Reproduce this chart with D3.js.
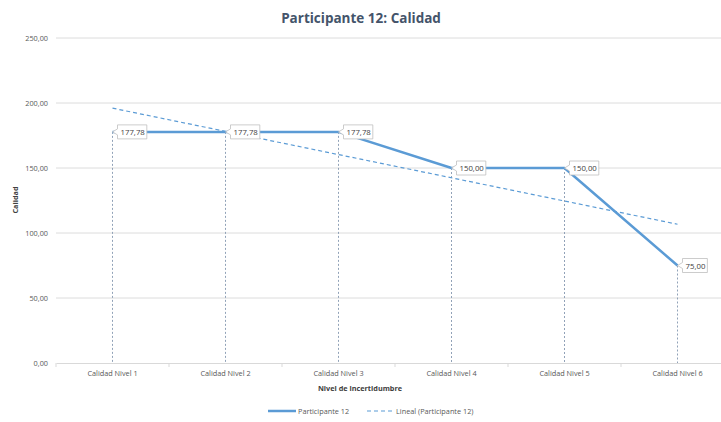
<!DOCTYPE html>
<html>
<head>
<meta charset="utf-8">
<script src="https://cdnjs.cloudflare.com/ajax/libs/d3/7.8.5/d3.min.js"></script>
<style>
  body { margin: 0; background: #fff; }
  text { font-family: "Open Sans", "Liberation Sans", sans-serif; }
</style>
</head>
<body>
<svg id="chart" width="721" height="422"></svg>
<script>
var categories = ["Calidad Nivel 1", "Calidad Nivel 2", "Calidad Nivel 3", "Calidad Nivel 4", "Calidad Nivel 5", "Calidad Nivel 6"];
var values = [177.78, 177.78, 177.78, 150.00, 150.00, 75.00];
var yTicks = [0, 50, 100, 150, 200, 250];

var fmt = function(v) { return d3.format(".2f")(v).replace(".", ","); };

var svg = d3.select("#chart"),
  margin = {top: 38, right: -13, bottom: 59, left: 56},
  width = +svg.attr("width") - margin.left - margin.right,
  height = +svg.attr("height") - margin.top - margin.bottom,
  main = svg.append("g").attr("transform", "translate(" + margin.left + "," + margin.top + ")");

var x = d3.scaleBand().domain(categories).range([0, width]);
var y = d3.scaleLinear().domain([0, 250]).range([height, 0]);
var cx = function(i) { return x(categories[i]) + x.bandwidth() / 2; };

// gridlines
main.append("g").selectAll("line").data(yTicks.slice(1)).enter().append("line")
  .attr("x1", 0).attr("x2", width)
  .attr("y1", function(d) { return y(d); }).attr("y2", function(d) { return y(d); })
  .attr("stroke", "#dcdcdc").attr("stroke-width", 1);

// y axis labels
var yaxis = d3.axisLeft(y).tickValues(yTicks).tickFormat(fmt).tickSize(0).tickPadding(8);
main.append("g").attr("class", "yaxis").call(yaxis)
  .call(function(g) { g.select(".domain").remove(); })
  .selectAll("text").attr("fill", "#595959").style("font-size", "7.3px");

// x axis
var xaxis = d3.axisBottom(x).tickSize(0).tickPadding(8);
var xg = main.append("g").attr("class", "xaxis").attr("transform", "translate(0," + height + ")").call(xaxis);
xg.select(".domain").attr("stroke", "#d9d9d9");
xg.selectAll("text").attr("fill", "#595959").style("font-size", "7.3px");
xg.selectAll(".band").data(d3.range(categories.length + 1)).enter().append("line")
  .attr("x1", function(i) { return x.step() * i; }).attr("x2", function(i) { return x.step() * i; })
  .attr("y1", 0).attr("y2", 4).attr("stroke", "#d9d9d9");

// drop lines
main.append("g").selectAll("line").data(values).enter().append("line")
  .attr("x1", function(d, i) { return cx(i); }).attr("x2", function(d, i) { return cx(i); })
  .attr("y1", function(d) { return y(d); }).attr("y2", height)
  .attr("stroke", "#8497b0").attr("stroke-width", 0.9).attr("stroke-dasharray", "2,2");

// linear trend (least squares on the series)
var n = values.length;
var mx = d3.mean(d3.range(n)), my = d3.mean(values);
var slope = d3.sum(values, function(d, i) { return (i - mx) * (d - my); }) / d3.sum(d3.range(n), function(i) { return (i - mx) * (i - mx); });
var trend = [0, n - 1].map(function(i) { return {i: i, v: my + slope * (i - mx)}; });

var trendLine = d3.line()
  .x(function(d) { return cx(d.i); })
  .y(function(d) { return y(d.v); });

main.append("path")
  .datum(trend)
  .attr("stroke", "#5b9bd5")
  .attr("fill", "none")
  .attr("stroke-width", 1.2)
  .attr("stroke-dasharray", "4,3")
  .attr("d", trendLine);

var valueLine = d3.line()
  .x(function(d, i) { return cx(i); })
  .y(function(d) { return y(d); });

main.append("path")
  .datum(values)
  .attr("stroke", "#5b9bd5")
  .attr("fill", "none")
  .attr("stroke-width", 2.5)
  .attr("stroke-linejoin", "round")
  .attr("d", valueLine);

// data label callouts
var lab = main.append("g").selectAll("g").data(values).enter().append("g")
  .attr("transform", function(d, i) { return "translate(" + cx(i) + "," + y(d) + ")"; });
lab.each(function(d) {
  var g = d3.select(this);
  var t = g.append("text").attr("x", 8).attr("y", 3).text(fmt(d))
    .attr("fill", "#404040").style("font-size", "7.8px");
  var w = t.node().getComputedTextLength() + 5;
  g.insert("path", "text")
    .attr("d", "M0,0 L5,-3 L5,-7 L" + (5 + w) + ",-7 L" + (5 + w) + ",7 L5,7 L5,3 Z")
    .attr("fill", "#fff").attr("stroke", "#bfbfbf").attr("stroke-width", 0.8);
});

// titles
svg.append("text").attr("x", 361).attr("y", 23).attr("text-anchor", "middle")
  .attr("fill", "#44546a").style("font-size", "13.5px").style("font-weight", "bold")
  .text("Participante 12: Calidad");
svg.append("text").attr("x", 360).attr("y", 391).attr("text-anchor", "middle")
  .attr("fill", "#404040").style("font-size", "7.3px").style("font-weight", "bold")
  .text("Nivel de incertidumbre");
svg.append("text").attr("transform", "translate(18,200) rotate(-90)").attr("text-anchor", "middle")
  .attr("fill", "#404040").style("font-size", "7.3px").style("font-weight", "bold")
  .text("Calidad");

// legend
var legend = svg.append("g").attr("transform", "translate(268,411)");
legend.append("line").attr("x1", 0).attr("x2", 28).attr("stroke", "#5b9bd5").attr("stroke-width", 2.5);
legend.append("text").attr("x", 30).attr("y", 3).attr("fill", "#595959").style("font-size", "7.3px").text("Participante 12");
legend.append("line").attr("x1", 99).attr("x2", 126).attr("stroke", "#5b9bd5").attr("stroke-width", 1.2).attr("stroke-dasharray", "4,3");
legend.append("text").attr("x", 128).attr("y", 3).attr("fill", "#595959").style("font-size", "7.3px").text("Lineal (Participante 12)");
</script>
</body>
</html>
